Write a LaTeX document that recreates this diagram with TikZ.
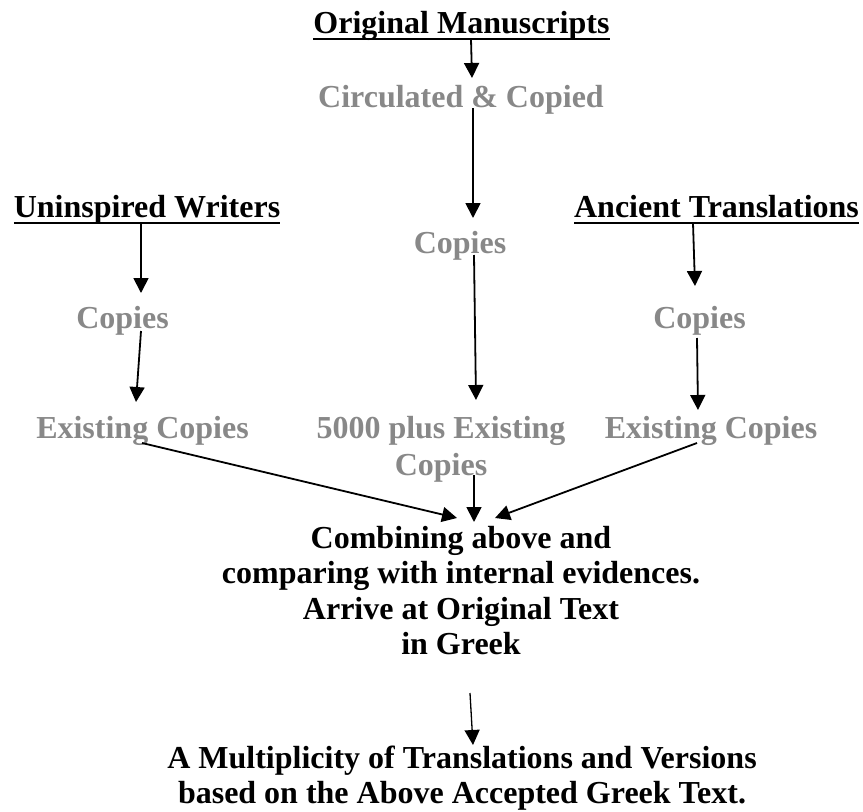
\documentclass[tikz,border=0pt]{standalone}
\usepackage{fontspec}
\setmainfont{Liberation Serif}
\usetikzlibrary{arrows.meta,calc}
\definecolor{txtgray}{RGB}{136,136,136}
\begin{document}
\begin{tikzpicture}[x=1pt,y=-1pt,
  every node/.style={inner sep=0pt, outer sep=0pt, anchor=base,
    font=\fontsize{32}{35.5}\selectfont\bfseries},
  blk/.style={text=black},
  gry/.style={text=txtgray},
  ul/.style={line width=2.6pt},
  arr/.style={line width=1.8pt, -{Triangle[length=15pt,width=15pt]}},
  thinarr/.style={line width=1.3pt, -{Triangle[length=15pt,width=15pt]}},
]
\useasboundingbox (0,0) rectangle (863,812);

% nodes
\node[blk] (om)  at (461.5,33)  {Original Manuscripts};
\node[gry] (cc)  at (461,107)   {Circulated \& Copied};
\node[blk] (uw)  at (147,217)   {Uninspired Writers};
\node[blk] (at)  at (716.5,217) {Ancient Translations};
\node[gry] (cm)  at (460,253)   {Copies};
\node[gry] (cl)  at (122.5,328) {Copies};
\node[gry] (cr)  at (699.5,328) {Copies};
\node[gry] (el)  at (142.5,438) {Existing Copies};
\node[gry] (em)  at (441,438)   {\begin{tabular}[t]{@{}c@{}}5000 plus Existing\\[1.5pt]Copies\end{tabular}};
\node[gry] (er)  at (711,438)   {Existing Copies};
\node[blk] (cmb) at (461,548)   {\begin{tabular}[t]{@{}c@{}}Combining above and\\comparing with internal evidences.\\Arrive at Original Text\\in Greek\end{tabular}};
\node[blk] (mul) at (462,768)   {\begin{tabular}[t]{@{}c@{}}A Multiplicity of Translations and Versions\\based on the Above Accepted Greek Text.\end{tabular}};

% underlines
\draw[ul] ($(om.base west)+(0,6)$) -- ($(om.base east)+(0,6)$);
\draw[ul] ($(uw.base west)+(0,6)$) -- ($(uw.base east)+(0,6)$);
\draw[ul] ($(at.base west)+(0,6)$) -- ($(at.base east)+(0,6)$);

% connectors
\draw[arr] ($(om.base)+(9.5,6)$)   -- ($(cc.base)+(11,-29)$);
\draw[arr] ($(cc.base)+(12,1)$)    -- ($(cm.base)+(13,-35)$);
\draw[arr] ($(uw.base)+(-6,6)$)    -- ($(cl.base)+(18.5,-35)$);
\draw[arr] ($(cl.base)+(18.5,3)$)  -- ($(el.base)+(-6.5,-36)$);
\draw[arr] ($(at.base)+(-23.5,6)$) -- ($(cr.base)+(-4.5,-42)$);
\draw[arr] ($(cr.base)+(-2.5,10)$) -- ($(er.base)+(-13,-28)$);
\draw[arr] ($(cm.base)+(14,2)$)    -- ($(em.base)+(35,-38)$);
\draw[arr] ($(el.base)+(-0.5,5)$)  -- ($(cmb.base)+(-4,-30)$);
\draw[arr] ($(em.base)+(33,37)$)   -- ($(cmb.base)+(13,-26)$);
\draw[arr] ($(er.base)+(-14,5)$)   -- ($(cmb.base)+(34,-30)$);
\draw[thinarr] ($(cmb.base)+(9,145)$) -- ($(mul.base)+(11,-23)$);
\end{tikzpicture}
\end{document}
